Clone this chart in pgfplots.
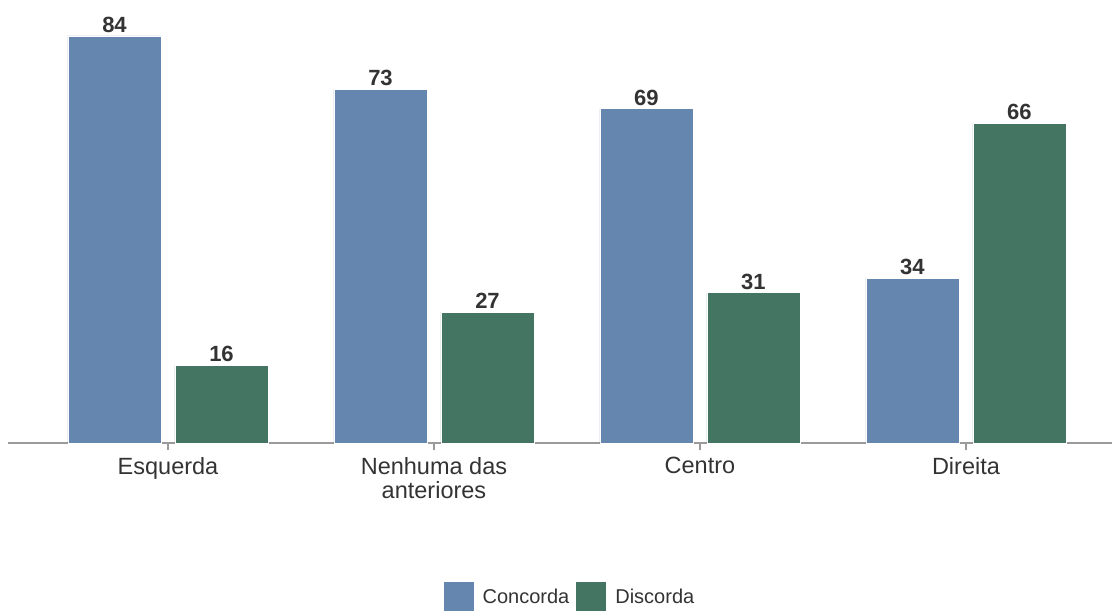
\documentclass[border=0pt]{standalone}
\usepackage{pgfplots}
\pgfplotsset{compat=1.18}
\usepackage{fontspec}
\setmainfont{Liberation Sans}
\definecolor{cblue}{HTML}{6587AF}
\definecolor{cgreen}{HTML}{447563}
\definecolor{txt}{HTML}{333333}
\definecolor{axgray}{HTML}{9A9A9A}
\begin{document}
\begin{tikzpicture}[x=1pt,y=1pt]
\useasboundingbox (0,0) rectangle (1112,611);
\begin{axis}[
  at={(8pt,168pt)}, anchor=south west,
  width=1104pt, height=441pt, scale only axis,
  xmin=-0.6015, xmax=3.549, ymin=0, ymax=91,
  axis x line*=bottom, hide y axis,
  x axis line style={draw=axgray, line width=2.2pt, -},
  every outer x axis line/.append style={draw=axgray, line width=2.2pt},
  ybar=14pt, bar width=93pt,
  xtick={0,1,2,3},
  xticklabels={Esquerda,{Nenhuma das\\anteriores},Centro,Direita},
  xticklabel style={align=center, font=\fontsize{23.5}{24}\selectfont, text=txt, yshift=-4pt},
  tick align=outside, major tick length=7pt,
  xtick style={draw=axgray, line width=2.5pt},
  major tick style={draw=axgray, line width=2.5pt},
  /pgf/number format/assume math mode=true,
  nodes near coords,
  nodes near coords style={font=\bfseries\fontsize{22}{22}\selectfont, text=txt, inner sep=3pt},
  legend columns=2,
  legend style={at={(0.509,-0.349)}, anchor=center, draw=none, fill=none,
    font=\fontsize{20}{20}\selectfont, text=txt,
    /tikz/every even column/.append style={column sep=5pt}},
  legend image code/.code={\fill[#1, draw=none] (0pt,-14pt) rectangle (30pt,15pt); \path[draw=none, fill=none] (0pt,0pt) -- (37pt,0pt);},
]
\addplot[fill=cblue, draw=white, line width=0.8pt] coordinates {(0,84) (1,73) (2,69) (3,34)};
\addplot[fill=cgreen, draw=white, line width=0.8pt] coordinates {(0,16) (1,27) (2,31) (3,66)};
\legend{Concorda,Discorda}
\end{axis}
\end{tikzpicture}
\end{document}
